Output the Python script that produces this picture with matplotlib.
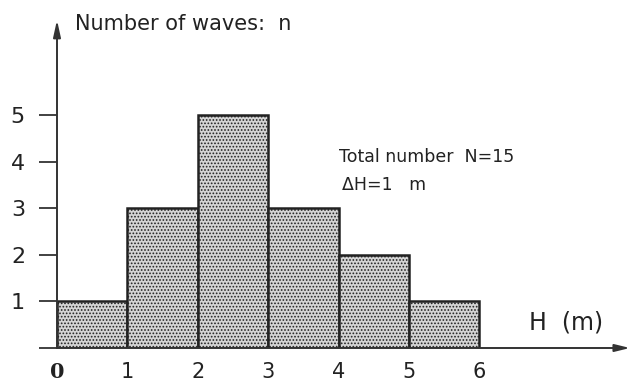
import matplotlib
matplotlib.use("Agg")
import matplotlib.pyplot as plt

# wave height histogram
edges = [0, 1, 2, 3, 4, 5, 6]
counts = [1, 3, 5, 3, 2, 1]
xticks = [0, 1, 2, 3, 4, 5, 6]
yticks = [1, 2, 3, 4, 5]

plt.rcParams['hatch.color'] = '#7a7a7a'
plt.rcParams['hatch.linewidth'] = 0.8

W, H = 632, 383
fig = plt.figure(figsize=(W / 100, H / 100), dpi=100)
x0, y0 = 57, 35
ax = fig.add_axes([x0 / W, y0 / H, (630 - x0) / W, (373 - 35 - y0 + 25) / H])
XMAX = (630 - x0) / 70.4
YMAX = (373 - 35 - y0 + 25) / 46.6
ax.set_xlim(0, XMAX)
ax.set_ylim(0, YMAX)
for s in ax.spines.values():
    s.set_visible(False)

lefts = edges[:-1]
ax.bar(lefts, counts, width=1, align='edge', facecolor='#d4d4d4',
       edgecolor='#222222', linewidth=1.8, hatch='.....', zorder=2)

# axes with arrows
ax.annotate('', xy=(XMAX, 0), xytext=(0, 0),
            arrowprops=dict(arrowstyle='-|>,head_length=0.9,head_width=0.22',
                            color='#333333', lw=1.4, shrinkA=0, shrinkB=0),
            annotation_clip=False, zorder=3)
ax.annotate('', xy=(0, YMAX), xytext=(0, 0),
            arrowprops=dict(arrowstyle='-|>,head_length=1.0,head_width=0.22',
                            color='#333333', lw=1.4, shrinkA=0, shrinkB=0),
            annotation_clip=False, zorder=3)

ax.set_yticks([0] + yticks)
ax.set_yticklabels([''] + [str(v) for v in yticks], fontsize=16, color='#222222')
ax.tick_params(axis='y', length=13, width=1.3, color='#333333', pad=10)

ax.set_xticks(xticks)
ax.set_xticklabels([str(v) for v in xticks], fontsize=15, color='#222222')
ax.tick_params(axis='x', length=0, pad=10)
ax.get_xticklabels()[0].set_fontweight('bold')
ax.get_xticklabels()[0].set_family('DejaVu Serif')

ax.text(0.25, YMAX - 0.08, 'Number of waves:  n', fontsize=15, color='#222222',
        va='center', ha='left')
ax.text(4.0, 4.1, 'Total number  N=15', fontsize=12.5, color='#222222',
        va='center', ha='left')
ax.text(4.05, 3.5, '\u0394H=1   m', fontsize=12.5, color='#222222',
        va='center', ha='left')
ax.text(6.7, 0.55, 'H  (m)', fontsize=17, color='#222222',
        va='center', ha='left')

fig.savefig('out.png', dpi=100, facecolor='white')
